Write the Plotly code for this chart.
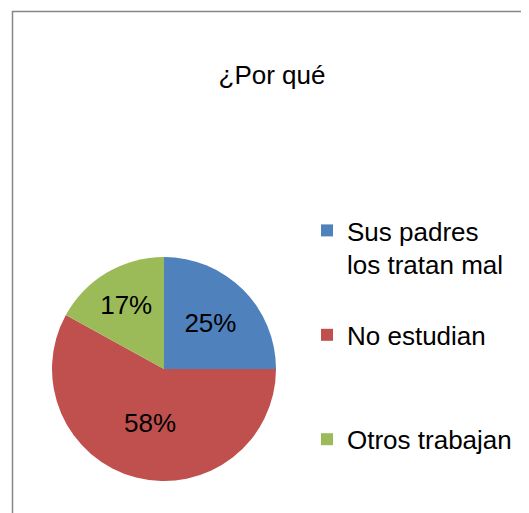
import plotly.graph_objects as go

W, H = 529, 513
OFF = 8  # page body margin: the figure starts 8px in from the window corner

# survey answers: "¿Por qué"
labels = ["Sus padres<br>los tratan mal", "No estudian", "Otros trabajan"]
values = [25, 58, 17]
colors = ["#4F81BD", "#C0504D", "#9BBB59"]

# trailing blank lines give the legend its wide vertical spacing
pad = ["<br> ", "<br> <br> ", ""]
legend_labels = [l + p for l, p in zip(labels, pad)]

FONT = "Liberation Sans, Arial, sans-serif"


def px_x(x):
    # window pixel -> paper fraction
    return (x - OFF) / W


def px_y(y):
    return 1 - (y - OFF) / H


fig = go.Figure()
fig.add_trace(go.Pie(
    labels=legend_labels,
    values=values,
    sort=False,
    direction="clockwise",
    rotation=0,
    marker=dict(colors=colors, line=dict(width=0)),
    texttemplate="%{percent:.0%}",
    textposition="inside",
    insidetextorientation="horizontal",
    textfont=dict(family=FONT, size=26, color="#000000"),
    hoverinfo="value+percent",
    domain=dict(x=[px_x(52), px_x(276)], y=[px_y(481), px_y(257)]),
))

fig.update_layout(
    width=W, height=H,
    margin=dict(l=0, r=0, t=0, b=0),
    paper_bgcolor="white",
    plot_bgcolor="white",
    font=dict(family=FONT, size=26, color="#000000"),
    title=dict(
        text="¿Por qué",
        x=px_x(272), xanchor="center",
        y=px_y(75), yanchor="middle",
        font=dict(family=FONT, size=26, color="#000000"),
    ),
    showlegend=True,
    legend=dict(
        x=px_x(307), xanchor="left",
        y=px_y(207), yanchor="top",
        valign="top",
        font=dict(family=FONT, size=26, color="#000000"),
        bgcolor="rgba(0,0,0,0)",
        traceorder="normal",
    ),
    shapes=[dict(
        type="rect", xref="paper", yref="paper",
        x0=px_x(12.5), x1=px_x(600), y0=px_y(600), y1=px_y(11.5),
        line=dict(color="#868686", width=1.5),
        fillcolor="rgba(0,0,0,0)",
    )],
)

fig.write_html("out.html")
